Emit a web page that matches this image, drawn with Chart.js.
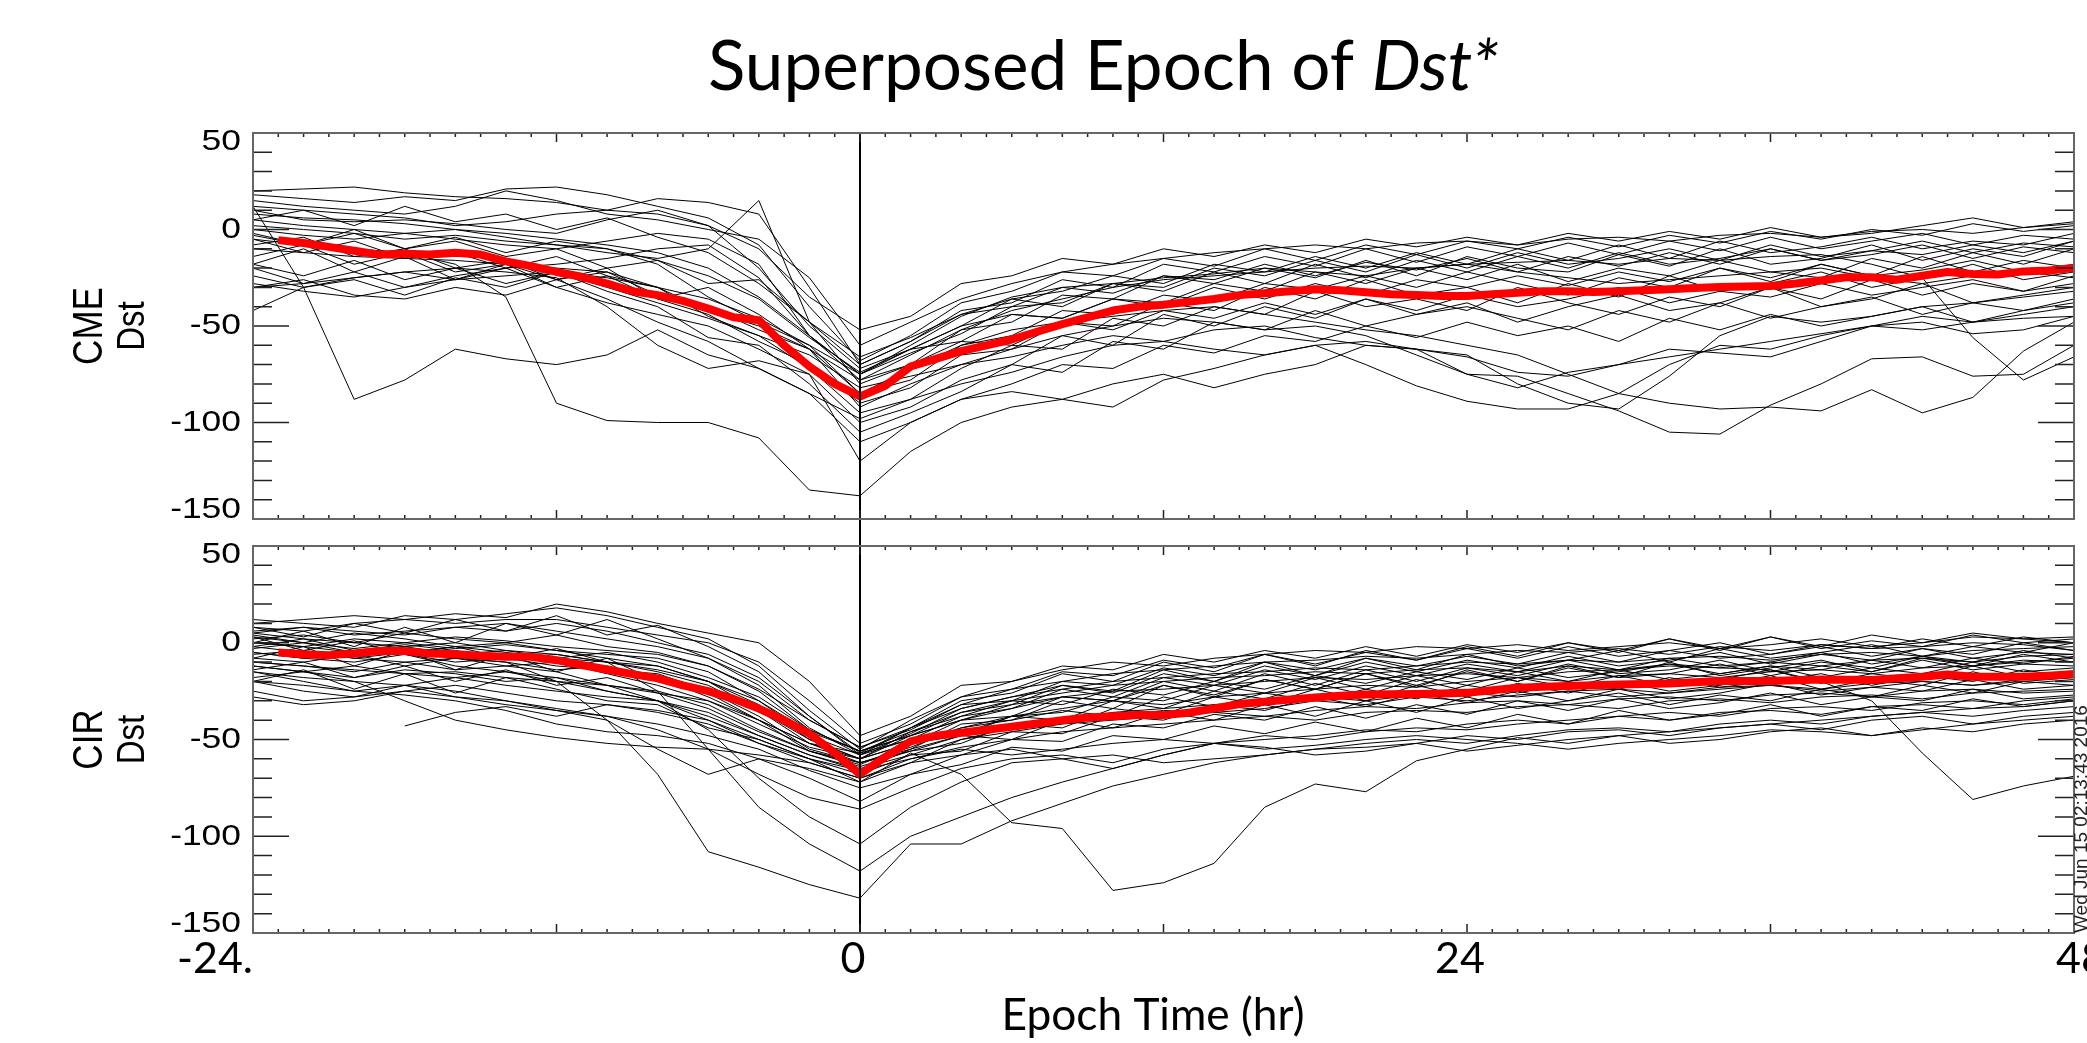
<!DOCTYPE html>
<html>
<head>
<meta charset="utf-8">
<script src="https://cdn.jsdelivr.net/npm/chart.js@4.4.1/dist/chart.umd.min.js"></script>
<style>
html, body { margin: 0; padding: 0; background: #fff; width: 2087px; height: 1043px; overflow: hidden; }
canvas { position: absolute; left: 0; }
#cme { top: 0; }
#cir { top: 540px; }
</style>
</head>
<body>
<canvas id="cme" width="2087" height="540"></canvas>
<canvas id="cir" width="2087" height="503"></canvas>
<script>
// epoch hours for the single storms (2 h steps) and for the mean curves (1 h steps)
const hoursEvent = [-24,-22,-20,-18,-16,-14,-12,-10,-8,-6,-4,-2,0,2,4,6,8,10,12,14,16,18,20,22,24,26,28,30,32,34,36,38,40,42,44,46,48];
const hoursMean = [-23,-22,-21,-20,-19,-18,-17,-16,-15,-14,-13,-12,-11,-10,-9,-8,-7,-6,-5,-4,-3,-2,-1,0,
  1,2,3,4,5,6,7,8,9,10,11,12,13,14,15,16,17,18,19,20,21,22,23,24,
  25,26,27,28,29,30,31,32,33,34,35,36,37,38,39,40,41,42,43,44,45,46,47,48];

const yTickValues = [50, 0, -50, -100, -150];
const xTickValues = [-24, 0, 24, 48];
const xTickLabels = ['-24.', '0', '24', '48'];

// superposed mean (red)
const cmeMean = [-5.5,-7,-9,-11,-13,-12.5,-13,-12,-13,-16.5,-19,-22,-24.5,-28,-32,-34,-37,-41,-45.5,-47,-60,-71,-80,-86.5,
  -81,-71,-67,-63,-60,-57,-53,-49,-45.5,-42,-40,-39,-37.5,-36,-34,-33,-32,-31,-31.5,-32.5,-33.5,-34,-34.5,-34.5,
  -33.6,-32.8,-32,-32,-32.4,-32,-31.5,-31,-30.3,-29.8,-29.5,-29.3,-28,-26.4,-24.7,-24.7,-26,-24,-22,-23,-23.3,-21.7,-21.2,-20];
const cirMean = [-5,-6,-6.4,-5.5,-4.3,-4.3,-5.5,-6,-6.7,-7.2,-7.2,-9,-11.5,-13.8,-16.2,-18.4,-22,-25,-29,-34,-40,-47,-57,-68,
  -59,-51,-48,-46.5,-45,-43.4,-41.7,-40,-38.6,-38,-37.4,-37.4,-36.2,-34,-31.7,-30.5,-29.3,-28.3,-27.4,-26.8,-26.6,-26.5,-26.2,-25.9,
  -24.5,-23.3,-22.8,-22.4,-22,-21.6,-21.3,-21,-20.4,-19.8,-19.8,-19.8,-19.4,-19,-19.1,-19.3,-18.4,-17.6,-16.4,-17.6,-17.6,-17.6,-17,-16.2];

// CME driven storms
const cme01 = [20,21,22,19,17,16,14,10,8,2,-10,-35,-52,-45,-28,-24,-15,-18,-10,-14,-8,-12,-5,-9,-4,-8,-2,-6,-1,-5,1,-4,-2,2,6,1,4];
const cme02 = [18,16,14,17,15,21,22,18,12,6,-8,-40,-68,-55,-38,-32,-22,-24,-15,-19,-10,-16,-8,-13,-6,-10,-4,-9,-3,-7,-1,-5,0,-3,3,-1,2];
const cme03 = [12,10,8,6,2,4,8,10,16,14,8,-30,-70,-58,-42,-38,-26,-30,-18,-22,-14,-19,-10,-17,-9,-14,-7,-13,-6,-11,-4,-10,-6,-2,-8,-3,-5];
const cme04 = [10,5,4,5,3,0,-2,5,10,2,-20,-50,-72,-62,-50,-36,-32,-24,-28,-18,-22,-14,-20,-12,-18,-10,-16,-8,-15,-6,-12,-9,-4,-10,-6,-8,-2];
const cme05 = [5,2,0,-2,-5,-8,-10,-6,-2,-5,-18,-55,-75,-64,-54,-40,-38,-28,-30,-20,-24,-16,-22,-13,-20,-12,-18,-15,-10,-16,-8,-14,-11,-6,-12,-7,-9];
const cme06 = [0,-3,-5,-2,0,-4,-8,-12,-15,-10,15,-48,-80,-70,-52,-48,-34,-36,-24,-28,-20,-25,-16,-24,-14,-20,-22,-13,-19,-10,-18,-15,-8,-16,-10,-14,-6];
const cme07 = [-3,-8,-2,-10,-6,-14,-10,-20,-16,-28,-26,-48,-70,-58,-44,-40,-30,-33,-24,-26,-18,-24,-17,-21,-15,-22,-14,-19,-12,-18,-10,-16,-13,-8,-15,-9,-12];
const cme08 = [-5,-12,-6,-15,-12,-20,-14,-24,-30,-36,-46,-60,-75,-62,-58,-44,-46,-36,-38,-28,-32,-22,-28,-20,-26,-18,-27,-20,-24,-16,-22,-25,-15,-20,-12,-18,-10];
const cme09 = [-8,-4,-14,-10,-20,-16,-26,-22,-34,-40,-52,-62,-85,-78,-60,-55,-42,-44,-34,-37,-28,-31,-24,-30,-22,-28,-34,-25,-30,-20,-27,-18,-24,-14,-22,-16,-20];
const cme10 = [-14,-8,-18,-12,-22,-18,-26,-20,-36,-44,-58,-70,-90,-82,-65,-62,-48,-50,-38,-42,-30,-36,-26,-34,-30,-38,-28,-35,-24,-32,-28,-22,-30,-25,-18,-26,-22];
const cme11 = [-18,-24,-16,-26,-20,-28,-22,-30,-38,-46,-55,-72,-95,-88,-72,-60,-62,-46,-50,-40,-44,-32,-40,-36,-42,-30,-38,-44,-35,-40,-30,-36,-26,-34,-28,-32,-24];
const cme12 = [-20,-28,-22,-30,-24,-20,-30,-38,-44,-50,-62,-75,-100,-92,-78,-70,-55,-60,-44,-50,-40,-46,-36,-44,-38,-48,-40,-34,-42,-38,-30,-40,-36,-28,-38,-34,-30];
const cme13 = [-24,-30,-26,-34,-25,-30,-22,-32,-40,-56,-60,-80,-105,-95,-84,-70,-74,-58,-62,-48,-52,-42,-50,-44,-40,-46,-52,-42,-48,-38,-46,-40,-35,-44,-38,-42,-36];
const cme14 = [-30,-26,-34,-36,-30,-34,-26,-36,-48,-58,-72,-85,-110,-100,-88,-80,-70,-72,-60,-64,-55,-58,-50,-56,-48,-55,-50,-58,-46,-52,-44,-50,-45,-40,-48,-42,-38];
const cme15 = [12,-30,-88,-78,-62,-67,-70,-65,-52,-65,-72,-85,-98,-88,-80,-74,-66,-60,-58,-52,-50,-56,-60,-62,-75,-82,-74,-70,-66,-62,-58,-54,-50,-52,-48,-46,-45];
const cme16 = [-5,-8,-10,-12,-18,-35,-90,-99,-100,-100,-108,-135,-138,-115,-100,-92,-88,-80,-75,-82,-75,-70,-60,-62,-65,-80,-90,-93,-76,-55,-45,-48,-45,-40,-38,-35,-32];
const cme17 = [-42,-30,-25,-22,-20,-22,-25,-40,-60,-72,-68,-75,-120,-100,-88,-84,-88,-92,-78,-72,-65,-60,-70,-81,-89,-93,-93,-85,-70,-60,-62,-55,-50,-45,-48,-44,-40];
const cme18 = [-10,-12,-14,-15,-16,-18,-20,-22,-30,-42,-50,-62,-92,-80,-70,-62,-55,-50,-46,-48,-52,-50,-55,-65,-75,-76,-85,-94,-105,-106,-91,-80,-67,-66,-76,-75,-60];
const cme19 = [2,0,-2,-5,-3,-6,-8,-10,-18,-35,-48,-60,-85,-72,-60,-52,-48,-45,-42,-40,-44,-48,-52,-55,-60,-65,-75,-85,-90,-93,-92,-94,-83,-95,-87,-63,-48];
const cme20 = [8,6,5,3,0,-2,-5,-8,-12,-20,-35,-55,-78,-65,-52,-42,-36,-30,-26,-24,-22,-20,-19,-20,-18,-17,-16,-18,-15,-16,-14,-13,-18,-25,-56,-78,-66];
const cme21 = [-30,-28,-25,-22,-26,-24,-22,-25,-30,-45,-55,-65,-82,-76,-70,-66,-60,-55,-58,-62,-65,-60,-58,-62,-66,-74,-76,-70,-62,-64,-66,-58,-50,-48,-54,-52,-45];
const cme22 = [-28,-32,-35,-30,-26,-20,-18,-15,-10,-8,-25,-55,-75,-60,-45,-35,-30,-28,-25,-23,-20,-22,-24,-20,-18,-22,-25,-28,-26,-24,-22,-20,-25,-28,-24,-22,-25];
const cme23 = [15,12,10,8,12,20,15,8,5,0,-5,-25,-60,-48,-36,-28,-22,-18,-15,-12,-10,-8,-10,-7,-6,-8,-5,-4,-6,-3,-2,-4,-1,0,-2,1,3];
const cme24 = [5,10,2,12,4,8,0,6,-4,-12,-28,-48,-66,-56,-44,-36,-40,-28,-32,-22,-28,-18,-25,-16,-22,-14,-20,-12,-18,-15,-10,-16,-11,-13,-8,-12,-6];
const cme25 = [-18,-10,-22,-14,-26,-18,-30,-24,-36,-30,-44,-62,-78,-70,-58,-60,-48,-52,-42,-46,-38,-44,-36,-42,-34,-40,-36,-30,-38,-32,-35,-28,-34,-30,-26,-32,-28];
const cme26 = [-2,-8,0,-10,-4,-12,-6,-10,-16,-24,-36,-56,-74,-62,-50,-44,-46,-36,-40,-30,-36,-28,-34,-26,-30,-24,-29,-22,-27,-20,-25,-18,-24,-21,-16,-22,-18];
const cmeEvents = [cme01,cme02,cme03,cme04,cme05,cme06,cme07,cme08,cme09,cme10,cme11,cme12,cme13,
  cme14,cme15,cme16,cme17,cme18,cme19,cme20,cme21,cme22,cme23,cme24,cme25,cme26];

// CIR driven storms
const cir01 = [10,12,14,12,15,13,20,16,10,5,0,-20,-48,-38,-22,-20,-12,-14,-6,-10,-4,-8,-2,-7,-1,-5,0,-4,2,-3,3,-2,4,0,5,2,3];
const cir02 = [8,6,10,12,10,12,12,8,4,0,-10,-30,-52,-42,-28,-24,-15,-17,-9,-13,-6,-11,-5,-9,-3,-8,-2,-7,-4,0,-6,-1,-3,2,-2,3,0];
const cir03 = [5,8,6,4,8,10,6,2,-2,-8,-20,-40,-54,-45,-32,-30,-20,-22,-13,-17,-10,-14,-8,-12,-7,-11,-5,-10,-4,-8,-6,-2,-7,-3,-6,0,-4];
const cir04 = [2,4,0,5,2,0,4,-2,-5,-12,-25,-45,-56,-48,-36,-32,-22,-26,-16,-20,-12,-17,-10,-15,-9,-13,-7,-12,-9,-5,-11,-6,-9,-3,-8,-5,-6];
const cir05 = [0,-2,2,0,-3,-1,-4,-6,-8,-15,-30,-48,-58,-50,-38,-34,-24,-28,-18,-22,-14,-19,-12,-17,-11,-15,-9,-14,-8,-12,-10,-5,-11,-7,-10,-4,-8];
const cir06 = [-3,0,-5,-2,-6,-4,-8,-10,-12,-20,-32,-50,-60,-52,-40,-38,-28,-30,-20,-25,-16,-22,-14,-20,-13,-17,-11,-16,-14,-9,-15,-10,-13,-7,-12,-9,-10];
const cir07 = [-5,-8,-4,-6,-10,-8,-12,-14,-16,-25,-38,-55,-62,-55,-42,-40,-30,-34,-22,-28,-19,-24,-16,-22,-15,-20,-13,-18,-16,-11,-17,-12,-15,-9,-14,-11,-12];
const cir08 = [-8,-10,-6,-12,-8,-10,-14,-12,-18,-28,-40,-52,-57,-50,-47,-38,-36,-28,-30,-22,-26,-18,-24,-17,-22,-15,-20,-14,-19,-16,-12,-18,-13,-16,-10,-15,-13];
const cir09 = [-10,-12,-15,-10,-14,-12,-10,-16,-22,-30,-42,-54,-60,-52,-48,-38,-40,-30,-34,-25,-29,-21,-27,-19,-25,-18,-23,-17,-22,-19,-14,-21,-16,-19,-12,-18,-16];
const cir10 = [-12,-15,-18,-14,-16,-20,-18,-22,-25,-32,-45,-56,-62,-56,-52,-42,-44,-34,-37,-28,-32,-24,-30,-22,-28,-21,-26,-20,-25,-22,-17,-24,-19,-22,-15,-21,-19];
const cir11 = [-15,-18,-20,-22,-18,-22,-25,-28,-30,-36,-48,-58,-65,-58,-56,-46,-47,-38,-40,-32,-35,-28,-33,-26,-31,-25,-30,-24,-29,-26,-21,-27,-23,-25,-19,-24,-22];
const cir12 = [-20,-25,-28,-25,-22,-26,-30,-32,-35,-40,-52,-62,-70,-62,-58,-50,-51,-42,-44,-37,-40,-33,-39,-32,-37,-30,-35,-29,-34,-31,-26,-32,-28,-30,-24,-29,-27];
const cir13 = [-28,-32,-30,-25,-28,-32,-35,-38,-42,-48,-55,-66,-75,-68,-63,-54,-56,-48,-50,-43,-47,-41,-46,-39,-44,-37,-42,-35,-40,-37,-32,-38,-33,-35,-29,-33,-30];
const cir14 = [0,-2,-5,-3,-8,-10,-20,-40,-68,-108,-116,-125,-132,-104,-104,-92,-83,-74,-68,-62,-58,-55,-52,-50,-52,-48,-45,-44,-46,-42,-40,-42,-38,-36,-38,-35,-33];
const cir15 = [-5,-8,-10,-6,-12,-15,-18,-25,-30,-40,-50,-60,-72,-57,-68,-93,-96,-128,-124,-114,-85,-73,-77,-61,-55,-49,-52,-48,-46,-44,-42,-40,-38,-36,-34,-33,-30];
const cir16 = [5,2,0,-2,0,-4,-6,-10,-25,-55,-85,-104,-118,-100,-90,-80,-72,-65,-58,-52,-50,-48,-45,-46,-42,-40,-42,-38,-36,-38,-34,-33,-35,-31,-30,-32,-29];
const cir17 = [-2,-5,-8,-10,-8,-12,-15,-22,-30,-45,-70,-90,-104,-85,-72,-62,-60,-58,-62,-60,-58,-55,-54,-52,-56,-53,-50,-48,-52,-50,-46,-44,-48,-45,-42,-40,-38];
const cir18 = [-15,-20,-25,-22,-28,-30,-34,-38,-45,-55,-68,-80,-86,-75,-65,-60,-58,-62,-55,-52,-54,-58,-56,-52,-48,-50,-46,-45,-48,-44,-42,-45,-40,-38,-42,-38,-36];
const cir19 = [3,0,5,2,-2,0,-4,-8,-12,-20,-35,-50,-60,-46,-36,-30,-26,-22,-20,-18,-17,-15,-16,-14,-13,-15,-12,-14,-11,-13,-14,-20,-30,-57,-81,-74,-69];
const cir20 = [null,null,null,-43,-36,-33,-38,-32,-36,-42,-52,-60,-68,-58,-50,-46,-42,-40,-38,-36,-38,-35,-33,-34,-31,-30,-32,-29,-28,-30,-27,-26,-28,-25,-24,-26,-25];
const cir21 = [-20,-22,-25,-27,-30,-35,-42,-46,-48,-52,-60,-70,-82,-68,-58,-55,-60,-65,-58,-52,-48,-50,-46,-44,-45,-42,-40,-38,-40,-36,-35,-37,-33,-32,-34,-30,-28];
const cir22 = [-25,-30,-28,-22,-25,-30,-35,-40,-55,-68,-60,-65,-72,-62,-50,-44,-40,-36,-34,-32,-30,-28,-30,-27,-26,-28,-25,-24,-26,-23,-22,-24,-21,-20,-22,-19,-18];
const cir23 = [12,10,8,14,12,15,18,14,8,2,-12,-35,-55,-40,-28,-20,-14,-10,-12,-8,-6,-4,-5,-2,-3,-1,-4,-2,0,-3,-1,2,-2,0,3,2,0];
const cir24 = [6,8,4,6,8,6,10,6,0,-6,-18,-38,-58,-44,-32,-24,-20,-16,-14,-12,-10,-9,-7,-8,-6,-4,-5,-3,-6,-2,-4,-1,-3,-2,0,-1,-4];
const cir25 = [-6,-4,-8,-5,-2,-5,-8,-5,-10,-18,-28,-45,-56,-48,-40,-32,-28,-25,-24,-22,-20,-18,-19,-17,-16,-18,-15,-14,-12,-13,-10,-12,-9,-8,-10,-7,-6];
const cir26 = [-2,2,-4,-1,-4,-8,-6,-10,-15,-22,-35,-52,-62,-54,-44,-38,-34,-30,-32,-28,-26,-24,-22,-23,-20,-18,-20,-17,-16,-18,-15,-14,-16,-13,-12,-10,-8];
const cir27 = [4,0,-3,0,3,1,-2,-4,-6,-12,-24,-40,-54,-44,-34,-28,-24,-20,-18,-16,-15,-13,-14,-12,-10,-11,-9,-10,-8,-7,-9,-6,-5,-7,-4,-3,-2];
const cir28 = [-18,-15,-12,-16,-18,-15,-20,-22,-26,-30,-40,-56,-64,-56,-48,-44,-40,-38,-35,-36,-34,-30,-32,-28,-30,-27,-25,-28,-26,-24,-22,-25,-23,-20,-22,-20,-18];
const cir29 = [-10,-12,-14,-16,-15,-18,-20,-25,-30,-38,-48,-58,-66,-60,-55,-58,-55,-52,-50,-52,-55,-53,-50,-48,-50,-52,-55,-52,-50,-48,-45,-46,-48,-44,-46,-42,-40];
const cir30 = [-12,-15,-20,-30,-40,-45,-49,-52,-54,-55,-58,-62,-70,-60,-54,-50,-46,-44,-42,-40,-38,-40,-36,-35,-36,-33,-32,-34,-30,-29,-31,-28,-27,-29,-26,-25,-24];
const cir31 = [8,3,10,5,12,6,14,4,9,-2,-15,-38,-57,-44,-30,-26,-16,-20,-10,-15,-6,-12,-4,-9,-2,-7,0,-5,2,-4,3,-3,1,-2,4,0,2];
const cir32 = [-8,-2,-12,-4,-14,-6,-15,-8,-20,-26,-40,-52,-60,-48,-40,-34,-28,-30,-22,-27,-19,-24,-16,-23,-14,-20,-12,-18,-10,-17,-13,-9,-15,-8,-12,-6,-10];
const cir33 = [-20,-14,-24,-16,-26,-18,-24,-30,-32,-44,-50,-60,-66,-55,-48,-50,-40,-44,-36,-40,-32,-38,-30,-36,-28,-34,-30,-26,-32,-27,-30,-24,-28,-22,-26,-20,-22];
const cir34 = [0,6,-2,8,0,10,4,12,2,-8,-22,-44,-58,-47,-34,-28,-22,-25,-14,-20,-10,-17,-8,-14,-6,-12,-9,-4,-10,-3,-8,-5,-1,-7,-2,-5,0];
const cir35 = [-14,-10,-18,-12,-20,-14,-22,-18,-26,-34,-46,-56,-63,-52,-44,-40,-35,-38,-28,-33,-26,-30,-24,-29,-22,-26,-21,-24,-18,-23,-20,-16,-22,-17,-20,-14,-18];
const cir36 = [3,-4,1,-6,-2,-8,-3,-10,-14,-20,-30,-46,-56,-46,-38,-30,-32,-24,-27,-20,-24,-17,-21,-15,-19,-13,-18,-15,-11,-16,-12,-14,-9,-13,-8,-11,-7];
const cirEvents = [cir01,cir02,cir03,cir04,cir05,cir06,cir07,cir08,cir09,cir10,cir11,cir12,cir13,cir14,cir15,cir16,cir17,cir18,
  cir19,cir20,cir21,cir22,cir23,cir24,cir25,cir26,cir27,cir28,cir29,cir30,cir31,cir32,cir33,cir34,cir35,cir36];

function toPoints(xs, ys) {
  return xs.map((x, i) => ({ x: x, y: ys[i] }));
}

// text stretched sideways like the IDL output
function wideText(ctx, text, x, y, sx, align) {
  ctx.save();
  ctx.translate(x, y);
  ctx.scale(sx, 1);
  ctx.textAlign = align;
  ctx.fillText(text, 0, 0);
  ctx.restore();
}

function fitSize(ctx, parts, width) {
  let w = 0;
  parts.forEach(p => { ctx.font = p.style + ' 100px Lato'; w += ctx.measureText(p.text).width; });
  return 100 * width / w;
}

const dstFrame = {
  id: 'dstFrame',
  afterDatasetsDraw(chart, args, o) {
    const ctx = chart.ctx;
    const a = chart.chartArea;
    const x = chart.scales.x, y = chart.scales.y;
    ctx.save();

    // epoch zero line, runs through both panels
    const x0 = Math.round(x.getPixelForValue(0));
    ctx.strokeStyle = '#000';
    ctx.lineWidth = 2;
    ctx.beginPath();
    ctx.moveTo(x0, a.top - o.zeroUp);
    ctx.lineTo(x0, a.bottom + o.zeroDown);
    ctx.stroke();

    // inward ticks on all four sides
    ctx.strokeStyle = '#222';
    ctx.lineWidth = 1.5;
    ctx.beginPath();
    for (let h = -24; h <= 48; h++) {
      const px = x.getPixelForValue(h);
      const len = h % 12 === 0 ? 9 : 4;
      ctx.moveTo(px, a.top); ctx.lineTo(px, a.top + len);
      ctx.moveTo(px, a.bottom); ctx.lineTo(px, a.bottom - len);
    }
    for (let v = -150; v <= 50; v += 10) {
      const py = y.getPixelForValue(v);
      const len = v % 50 === 0 ? 36 : 19;
      ctx.moveTo(a.left, py); ctx.lineTo(a.left + len, py);
      ctx.moveTo(a.right, py); ctx.lineTo(a.right - len, py);
    }
    ctx.stroke();

    ctx.strokeStyle = '#666';
    ctx.lineWidth = 2;
    ctx.strokeRect(a.left, a.top, a.right - a.left, a.bottom - a.top);

    // y tick labels
    ctx.fillStyle = '#000';
    ctx.font = '30px "Liberation Sans"';
    ctx.textBaseline = 'middle';
    yTickValues.forEach(v => {
      let py = y.getPixelForValue(v);
      if (v === 50) py += 9;
      if (v === -150) py -= 9;
      wideText(ctx, String(v), a.left - 12, py, 1.18, 'right');
    });

    // panel name and Dst, rotated
    const mid = (a.top + a.bottom) / 2;
    ctx.textAlign = 'center';
    ctx.textBaseline = 'middle';
    [[o.name, 90, 35], ['Dst', 133, 33]].forEach(([t, cx, fs]) => {
      ctx.save();
      ctx.font = fs + 'px "Liberation Sans"';
      ctx.translate(cx, mid);
      ctx.scale(1.2, 1);
      ctx.rotate(-Math.PI / 2);
      ctx.fillText(t, 0, 0);
      ctx.restore();
    });

    if (o.title) {
      const parts = [{ text: 'Superposed Epoch of ', style: '' }, { text: 'Dst*', style: 'italic' }];
      const size = fitSize(ctx, parts, 791);
      let tx = 708;
      ctx.textAlign = 'left';
      ctx.textBaseline = 'alphabetic';
      parts.forEach(p => {
        ctx.font = p.style + ' ' + size + 'px Lato';
        ctx.fillText(p.text, tx, 90);
        tx += ctx.measureText(p.text).width;
      });
    }

    if (o.xLabels) {
      ctx.textBaseline = 'alphabetic';
      ctx.font = '43px Lato';
      xTickValues.forEach((v, i) => {
        const px = x.getPixelForValue(v);
        if (i === 0) { ctx.textAlign = 'right'; ctx.fillText(xTickLabels[i], px, a.bottom + 40); }
        else if (i === xTickValues.length - 1) { ctx.textAlign = 'left'; ctx.fillText(xTickLabels[i], px - 18, a.bottom + 40); }
        else { ctx.textAlign = 'center'; ctx.fillText(xTickLabels[i], px - 7, a.bottom + 40); }
      });
      const size = fitSize(ctx, [{ text: 'Epoch Time (hr)', style: '' }], 303);
      ctx.font = size + 'px Lato';
      ctx.textAlign = 'center';
      ctx.fillText('Epoch Time (hr)', 1153, a.bottom + 97);

      // IDL date stamp along the right edge
      ctx.save();
      ctx.font = '19px "Liberation Sans"';
      ctx.fillStyle = '#222';
      ctx.translate(2087, a.bottom);
      ctx.rotate(-Math.PI / 2);
      ctx.textAlign = 'left';
      ctx.fillText('Wed Jun 15 02:13:43 2016', 0, 0);
      ctx.restore();
    }
    ctx.restore();
  }
};

function makePanel(id, events, mean, frameOpts, pad) {
  const sets = [{
    data: toPoints(hoursMean, mean),
    borderColor: 'rgb(255,0,0)',
    borderWidth: 8,
    order: 0
  }];
  events.forEach(ev => sets.push({
    data: toPoints(hoursEvent, ev),
    borderColor: '#000',
    borderWidth: 1,
    order: 1
  }));
  return new Chart(document.getElementById(id).getContext('2d'), {
    type: 'line',
    data: { datasets: sets },
    options: {
      responsive: false,
      animation: false,
      devicePixelRatio: 1,
      layout: { padding: pad },
      elements: { point: { radius: 0 }, line: { tension: 0, borderJoinStyle: 'round' } },
      scales: {
        x: { type: 'linear', min: -24, max: 48, display: false },
        y: { type: 'linear', min: -150, max: 50, display: false }
      },
      plugins: { legend: { display: false }, tooltip: { enabled: false }, dstFrame: frameOpts }
    },
    plugins: [dstFrame]
  });
}

makePanel('cme', cmeEvents, cmeMean,
  { name: 'CME', zeroUp: 0, zeroDown: 21, title: true, xLabels: false },
  { left: 253, right: 13, top: 133, bottom: 21 });
makePanel('cir', cirEvents, cirMean,
  { name: 'CIR', zeroUp: 6, zeroDown: 0, title: false, xLabels: true },
  { left: 253, right: 13, top: 6, bottom: 110 });
</script>
</body>
</html>
